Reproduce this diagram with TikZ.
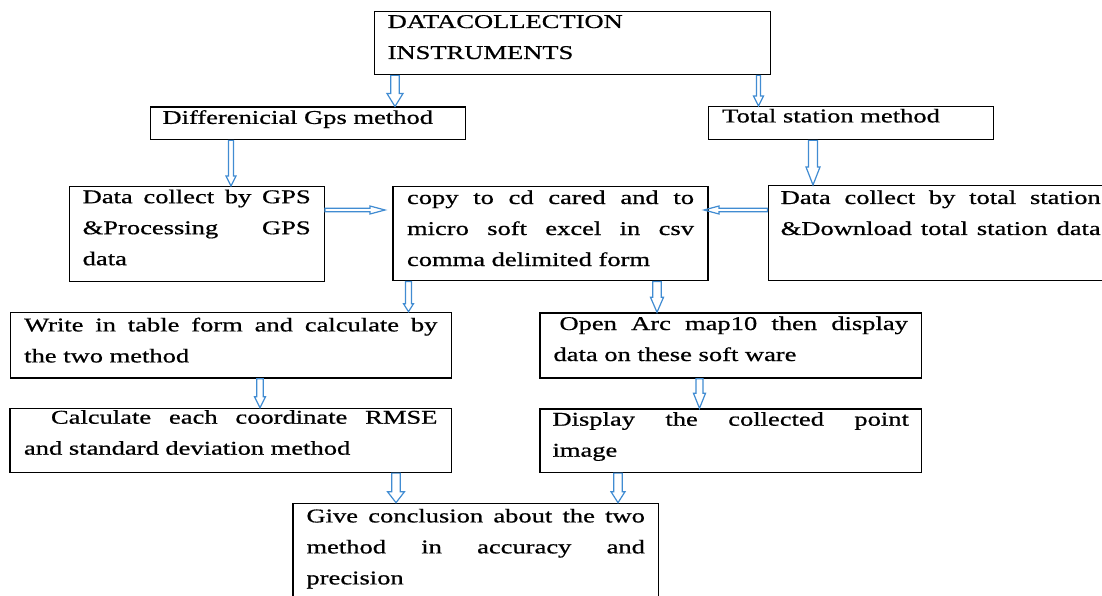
\documentclass[tikz,border=0pt]{standalone}
\usepackage{fontspec}
\setmainfont{Liberation Serif}[FakeStretch=1.36,FakeBold=0.7]
\usetikzlibrary{calc}
\definecolor{arrowblue}{RGB}{65,140,210}
\newcommand\jl[1]{\makebox[\linewidth][s]{#1}}
\newcommand\jli[2]{\hspace*{#1pt}\makebox[\dimexpr\linewidth-#1pt\relax][s]{#2}}
\newcommand\fl[1]{\rule{0pt}{#1pt}}
\newcommand\mkbox[8]{\node[boxst,inner xsep=#6pt,anchor=north west] (#1) at (#2,#3) {\parbox[c][#5pt][t]{\dimexpr#4pt-#6pt-#6pt\relax}{\fl{#7}#8}};}
\tikzset{
  boxst/.style={draw=black, line width=1.4pt, inner ysep=0pt, font=\fontsize{19.5}{31}\selectfont},
  barrow/.style n args={3}{draw=arrowblue, line width=1.2pt, line join=miter, to path={
    ($(\tikztostart)!#1pt!90:(\tikztotarget)$) --
    ($(\tikztotarget)!#3pt!(\tikztostart)!#1pt!90:(\tikztotarget)$) --
    ($(\tikztotarget)!#3pt!(\tikztostart)!#2pt!90:(\tikztotarget)$) --
    (\tikztotarget) --
    ($(\tikztotarget)!#3pt!(\tikztostart)!#2pt!-90:(\tikztotarget)$) --
    ($(\tikztotarget)!#3pt!(\tikztostart)!#1pt!-90:(\tikztotarget)$) --
    ($(\tikztostart)!#1pt!-90:(\tikztotarget)$) -- cycle}}
}
\begin{document}
\begin{tikzpicture}[x=1pt,y=-1pt]
\useasboundingbox (0,0) rectangle (1102,596);
\fill[white] (0,0) rectangle (1102,596);

\mkbox{top}{374}{11}{396}{63}{13}{16.3}{DATACOLLECTION\\INSTRUMENTS}
\mkbox{gps}{149.5}{106.5}{315.5}{32.5}{12.3}{16.7}{Differenicial Gps method}
\mkbox{ts}{707.5}{106}{285}{33}{14}{15.7}{Total station method}
\mkbox{gpsdata}{68.5}{186}{255}{95}{13.5}{16.5}{\jl{Data collect by GPS}\\\jl{\&Processing GPS}\\data}
\mkbox{copy}{392.3}{185.7}{315}{94.3}{14}{17.6}{\jl{copy to cd cared and to}\\\jl{micro soft excel in csv}\\comma delimited form}
\mkbox{tsdata}{767.5}{185}{345}{95}{12.5}{18.3}{\jl{Data collect by total station}\\\jl{\&Download total station data}}
\mkbox{write}{9.5}{311.7}{441.2}{65.6}{14}{19}{\jl{Write in table form and calculate by}\\the two method}
\mkbox{open}{539.3}{312.3}{381.4}{65}{13.5}{17}{\jli{6}{Open Arc map10 then display}\\data on these soft ware}
\mkbox{calc}{9.3}{407.7}{441.4}{64}{14}{15.3}{\jli{27}{Calculate each coordinate RMSE}\\and standard deviation method}
\mkbox{disp}{539.3}{408.3}{381.4}{63.4}{12.5}{16.7}{\jl{Display the collected point}\\image}
\mkbox{give}{292.3}{502.7}{365.4}{110}{13.5}{19}{\jl{Give conclusion about the two}\\\jl{method in accuracy and}\\precision}

\coordinate (a1s) at (395,0 |- top.south);   \coordinate (a1e) at (395,0 |- gps.north);
\coordinate (a2s) at (758.5,0 |- top.south); \coordinate (a2e) at (758.5,0 |- ts.north);
\coordinate (a3s) at (231,0 |- gps.south);   \coordinate (a3e) at (231,0 |- gpsdata.north);
\coordinate (a4s) at (813,0 |- ts.south);    \coordinate (a4e) at (813,0 |- tsdata.north);
\coordinate (a5s) at (408.5,0 |- copy.south); \coordinate (a5e) at (408.5,0 |- write.north);
\coordinate (a6s) at (657,0 |- copy.south);  \coordinate (a6e) at (657,0 |- open.north);
\coordinate (a7s) at (260,0 |- write.south); \coordinate (a7e) at (260,0 |- calc.north);
\coordinate (a8s) at (699.5,0 |- open.south); \coordinate (a8e) at (699.5,0 |- disp.north);
\coordinate (a9s) at (396,0 |- calc.south);  \coordinate (a9e) at (396,0 |- give.north);
\coordinate (a10s) at (618,0 |- disp.south); \coordinate (a10e) at (618,0 |- give.north);
\coordinate (h1s) at (gpsdata.east |- 0,210); \coordinate (h1e) at (385,210);
\coordinate (h2s) at (tsdata.west |- 0,210);  \coordinate (h2e) at (704,210);

\draw[barrow={4.2}{8}{13}] (a1s) to (a1e);
\draw[barrow={2}{5}{10}] (a2s) to (a2e);
\draw[barrow={2.5}{5}{10}] (a3s) to (a3e);
\draw[barrow={4.5}{7}{18}] (a4s) to (a4e);
\draw[barrow={3}{5}{8}] (a5s) to (a5e);
\draw[barrow={4.3}{6.5}{15}] (a6s) to (a6e);
\draw[barrow={3.3}{5.5}{11}] (a7s) to (a7e);
\draw[barrow={3.5}{6}{15}] (a8s) to (a8e);
\draw[barrow={4.2}{8.5}{11}] (a9s) to (a9e);
\draw[barrow={4.3}{7}{11}] (a10s) to (a10e);
\draw[barrow={1.8}{4}{15}] (h1s) to (h1e);
\draw[barrow={1.8}{4}{15}] (h2s) to (h2e);
\end{tikzpicture}
\end{document}
